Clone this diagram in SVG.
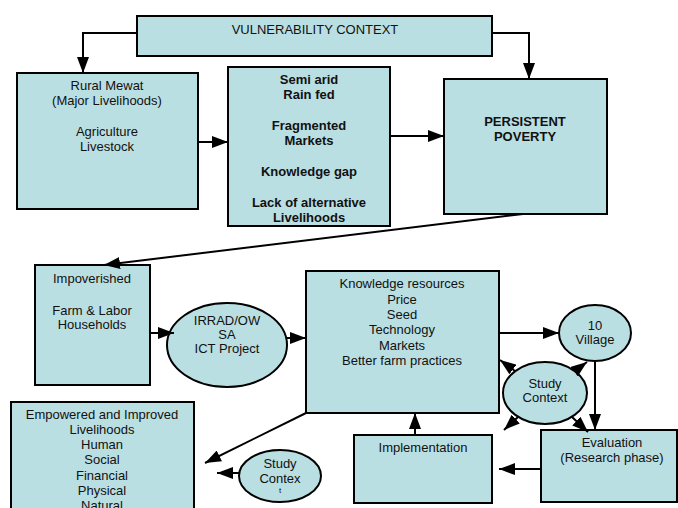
<svg xmlns="http://www.w3.org/2000/svg" width="678" height="508" viewBox="0 0 678 508">
<style>
.n{fill:#badfe2;stroke:#000;stroke-width:2}
.t{font-family:"Liberation Sans",Arial,sans-serif;font-size:13px;text-anchor:middle;fill:#111}
.b{font-weight:bold}
.c{fill:none;stroke:#000;stroke-width:2;marker-end:url(#ah)}
</style>
<defs>
<marker id="ah" viewBox="0 0 16 12" refX="16" refY="6" markerWidth="16" markerHeight="12" markerUnits="userSpaceOnUse" orient="auto">
<path d="M0,0 L16,6 L0,12 z" fill="#000"/>
</marker>
</defs>
<rect width="678" height="508" fill="#fff"/>
<g id="vulnerability">
<rect class="n" x="137" y="16" width="355" height="40"/>
<text class="t" x="315" y="34">VULNERABILITY CONTEXT</text>
</g>
<g id="rural">
<rect class="n" x="17" y="73" width="181" height="136"/>
<text class="t" x="107" y="90">Rural Mewat</text>
<text class="t" x="107" y="105">(Major Livelihoods)</text>
<text class="t" x="107" y="136">Agriculture</text>
<text class="t" x="107" y="151">Livestock</text>
</g>
<g id="constraints">
<rect class="n" x="228" y="67" width="162" height="159"/>
<text class="t b" x="309" y="84">Semi arid</text>
<text class="t b" x="309" y="99">Rain fed</text>
<text class="t b" x="309" y="130">Fragmented</text>
<text class="t b" x="309" y="145">Markets</text>
<text class="t b" x="309" y="176">Knowledge gap</text>
<text class="t b" x="309" y="207">Lack of alternative</text>
<text class="t b" x="309" y="222">Livelihoods</text>
</g>
<g id="poverty">
<rect class="n" x="444" y="79" width="163" height="135"/>
<text class="t b" x="525" y="126">PERSISTENT</text>
<text class="t b" x="525" y="141">POVERTY</text>
</g>
<g id="impoverished">
<rect class="n" x="35" y="265" width="115" height="120"/>
<text class="t" x="92" y="283">Impoverished</text>
<text class="t" x="92" y="315">Farm &amp; Labor</text>
<text class="t" x="92" y="329">Households</text>
</g>
<g id="irrad">
<ellipse class="n" cx="227" cy="345" rx="60" ry="42"/>
<text class="t" x="227" y="325">IRRAD/OW</text>
<text class="t" x="227" y="339">SA</text>
<text class="t" x="227" y="353">ICT Project</text>
</g>
<g id="knowledge">
<rect class="n" x="306" y="271" width="193" height="142"/>
<text class="t" x="402" y="288">Knowledge resources</text>
<text class="t" x="402" y="304">Price</text>
<text class="t" x="402" y="319">Seed</text>
<text class="t" x="402" y="334">Technology</text>
<text class="t" x="402" y="350">Markets</text>
<text class="t" x="402" y="365">Better farm practices</text>
</g>
<g id="village">
<ellipse class="n" cx="595" cy="333" rx="36" ry="28"/>
<text class="t" x="595" y="330">10</text>
<text class="t" x="595" y="344">Village</text>
</g>
<g id="studycontext">
<ellipse class="n" cx="545" cy="393" rx="42" ry="31"/>
<text class="t" x="545" y="388">Study</text>
<text class="t" x="545" y="402">Context</text>
</g>
<g id="implementation">
<rect class="n" x="354" y="435" width="138" height="68"/>
<text class="t" x="423" y="452">Implementation</text>
</g>
<g id="evaluation">
<rect class="n" x="541" y="430" width="136" height="72"/>
<text class="t" x="612" y="447">Evaluation</text>
<text class="t" x="612" y="462">(Research phase)</text>
</g>
<g id="empowered">
<rect class="n" x="11" y="402" width="183" height="120"/>
<text class="t" x="102" y="419">Empowered and Improved</text>
<text class="t" x="102" y="434">Livelihoods</text>
<text class="t" x="102" y="449">Human</text>
<text class="t" x="102" y="464">Social</text>
<text class="t" x="102" y="480">Financial</text>
<text class="t" x="102" y="495">Physical</text>
<text class="t" x="102" y="510">Natural</text>
</g>
<g id="studycontex">
<ellipse class="n" cx="280" cy="476" rx="41" ry="26"/>
<text class="t" x="280" y="468">Study</text>
<text class="t" x="280" y="483">Contex</text>
<text class="t" x="280" y="493" style="font-size:8px">t</text>
</g>
<g id="connectors">
<path class="c" d="M137,33 H83 V73"/>
<path class="c" d="M492,33 H529 V79"/>
<path class="c" d="M198,142 H228"/>
<path class="c" d="M390,136 H444"/>
<path class="c" d="M523,214 L104,265"/>
<path class="c" d="M150,333 H174"/>
<path class="c" d="M287,338 H306"/>
<path class="c" d="M499,333 H559"/>
<path class="c" d="M595,361 V430"/>
<path class="c" d="M415,435 V413"/>
<path class="c" d="M541,469 H499"/>
<path class="c" d="M306,413 L205,463"/>
<path class="c" d="M240,473 H217"/>
<path class="c" d="M515,371 L500,360"/>
<path class="c" d="M575,371 L587,362"/>
<path class="c" d="M518,417 L504,430"/>
<path class="c" d="M572,417 L588,432"/>
</g>
</svg>
